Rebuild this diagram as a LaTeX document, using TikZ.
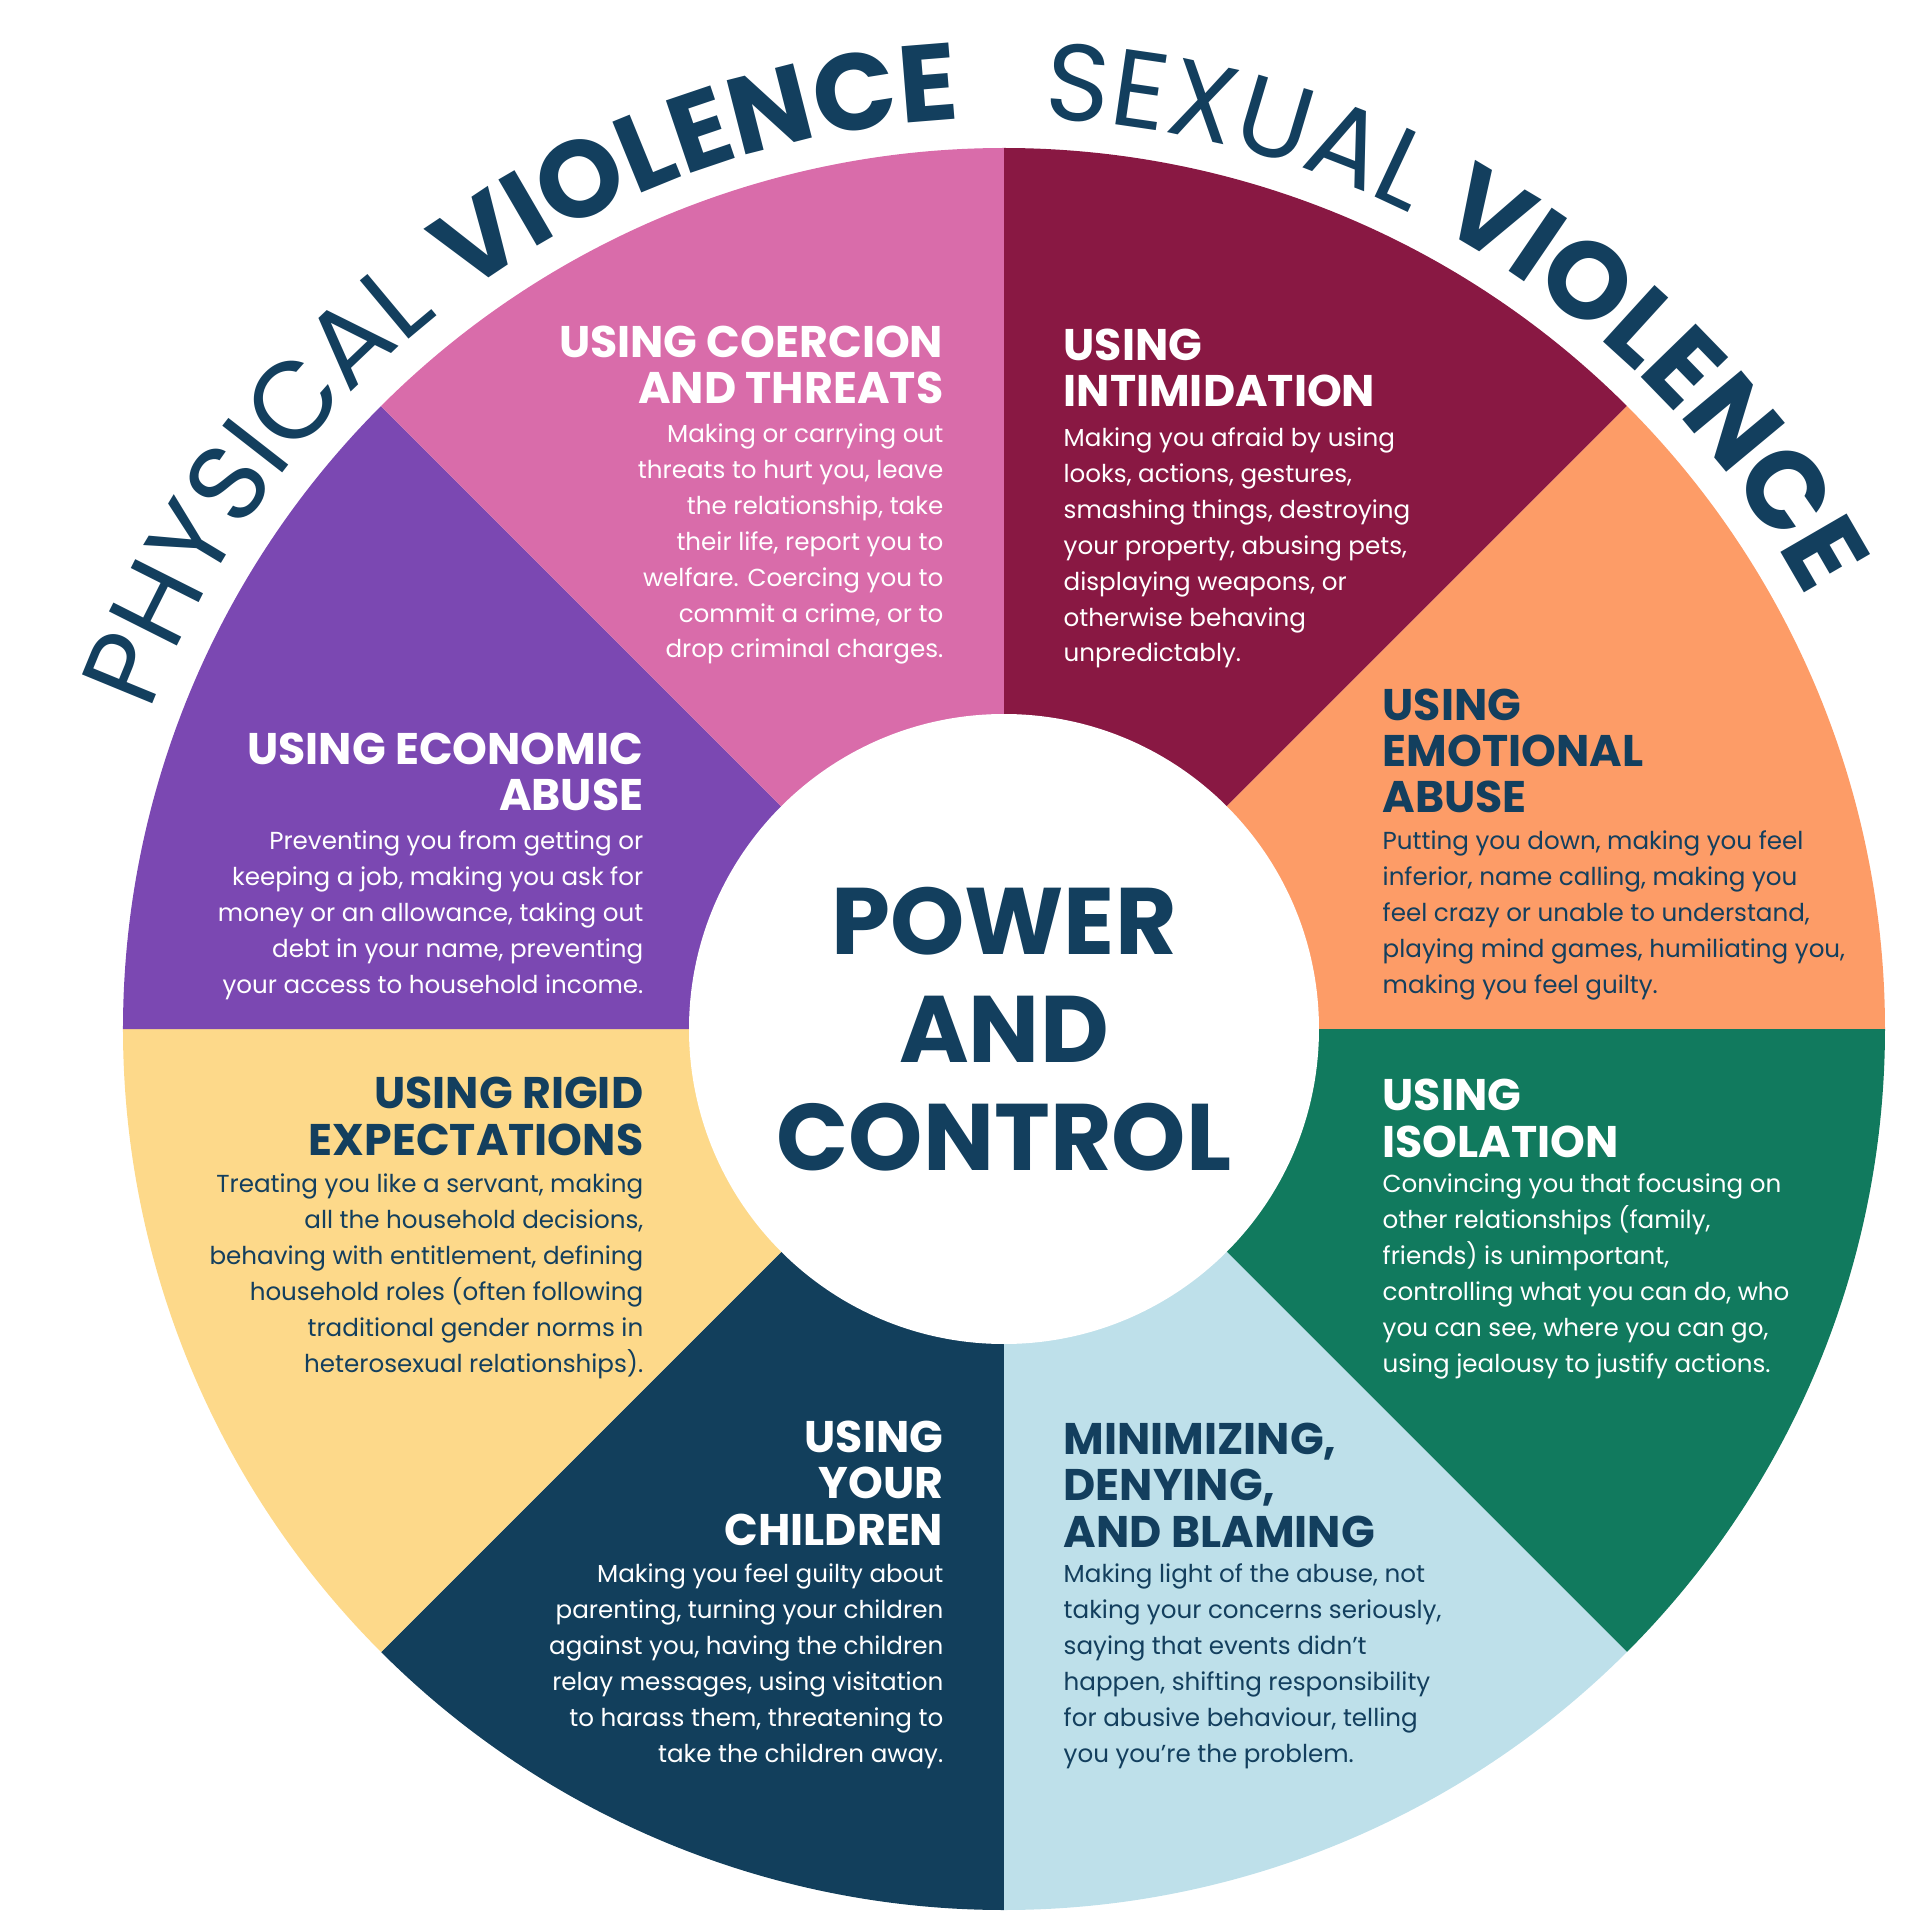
\documentclass[tikz,border=0pt]{standalone}
\usepackage{fontspec}
\setmainfont{Poppins}
\usepackage{xcolor}
\usepackage{tikz}
\usetikzlibrary{decorations.text}
\definecolor{wpink}{HTML}{D96CAA}
\definecolor{wmaroon}{HTML}{891843}
\definecolor{worange}{HTML}{FD9C67}
\definecolor{wgreen}{HTML}{117A5E}
\definecolor{wsky}{HTML}{BEE0EA}
\definecolor{wnavy}{HTML}{123F5C}
\definecolor{wyellow}{HTML}{FDD98A}
\definecolor{wpurple}{HTML}{7B48B2}
\definecolor{ink}{HTML}{133F5E}
\newcommand\hdfont{\fontsize{12.6pt}{13.1pt}\selectfont\bfseries}
\newcommand\txfont{\fontsize{7pt}{10.24pt}\selectfont}
\newcommand\hubfont{\fontsize{26.9pt}{30.7pt}\selectfont\bfseries}
\newcommand\rimfont{\fontsize{31pt}{31pt}\selectfont}

\begin{document}
\begin{tikzpicture}[
  x=0.1mm,y=0.1mm,
  seg/.style={fill=#1},
  hd/.style={inner sep=0pt,font=\hdfont,text=white},
  hdl/.style={hd,anchor=base west,align=left},
  hdr/.style={hd,anchor=base east,align=right},
  tx/.style={inner sep=0pt,font=\txfont,text=white},
  txl/.style={tx,anchor=base west,align=left},
  txr/.style={tx,anchor=base east,align=right},
  dark/.style={text=ink},
  hub/.style={circle,fill=white,minimum size=63mm,inner sep=0pt,
              align=center,font=\hubfont,text=ink},
  rimtxt/.style={decorate,decoration={text along path,text align=center,
                 text color=ink,text={#1}}}
]
\useasboundingbox (-1004,-891) rectangle (916,1029);

\fill[seg=wmaroon] (0,0) -- (90:881) arc[start angle=90,end angle=45,radius=881] -- cycle;
\fill[seg=worange] (0,0) -- (45:881) arc[start angle=45,end angle=0,radius=881] -- cycle;
\fill[seg=wgreen] (0,0) -- (0:881) arc[start angle=0,end angle=-45,radius=881] -- cycle;
\fill[seg=wsky] (0,0) -- (-45:881) arc[start angle=-45,end angle=-90,radius=881] -- cycle;
\fill[seg=wnavy] (0,0) -- (-90:881) arc[start angle=-90,end angle=-135,radius=881] -- cycle;
\fill[seg=wyellow] (0,0) -- (-135:881) arc[start angle=-135,end angle=-180,radius=881] -- cycle;
\fill[seg=wpurple] (0,0) -- (180:881) arc[start angle=180,end angle=135,radius=881] -- cycle;
\fill[seg=wpink] (0,0) -- (135:881) arc[start angle=135,end angle=90,radius=881] -- cycle;

\node[hub] (hub) at (0,0) {POWER\\AND\\CONTROL};

\node[hdr] (coer) at (-60,625) {USING COERCION\\AND THREATS};
\node[txr] (coertxt) at (-60,371)
  {Making or carrying out\\threats to hurt you, leave\\the relationship, take\\
   their life, report you to\\welfare. Coercing you to\\commit a crime, or to\\
   drop criminal charges.};

\node[hdl] (intim) at (59,622) {USING\\INTIMIDATION};
\node[txl] (intimtxt) at (59,367)
  {Making you afraid by using\\looks, actions, gestures,\\smashing things, destroying\\
   your property, abusing pets,\\displaying weapons, or\\otherwise behaving\\
   unpredictably.};

\node[hdl,dark] (emo) at (378,216) {USING\\EMOTIONAL\\ABUSE};
\node[txl,dark] (emotxt) at (378,36)
  {Putting you down, making you feel\\inferior, name calling, making you\\
   feel crazy or unable to understand,\\playing mind games, humiliating you,\\
   making you feel guilty.};

\node[hdr] (econ) at (-360,218) {USING ECONOMIC\\ABUSE};
\node[txr] (econtxt) at (-360,36)
  {Preventing you from getting or\\keeping a job, making you ask for\\
   money or an allowance, taking out\\debt in your name, preventing\\
   your access to household income.};

\node[hdr,dark] (rigid) at (-360,-126) {USING RIGID\\EXPECTATIONS};
\node[txr,dark] (rigidtxt) at (-360,-343)
  {Treating you like a servant, making\\all the household decisions,\\
   behaving with entitlement, defining\\household roles (often following\\
   traditional gender norms in\\heterosexual relationships).};

\node[hdl] (isol) at (378,-128) {USING\\ISOLATION};
\node[txl] (isoltxt) at (378,-343)
  {Convincing you that focusing on\\other relationships (family,\\
   friends) is unimportant,\\controlling what you can do, who\\
   you can see, where you can go,\\using jealousy to justify actions.};

\node[hdr] (child) at (-60,-516) {USING\\YOUR\\CHILDREN};
\node[txr] (childtxt) at (-60,-733)
  {Making you feel guilty about\\parenting, turning your children\\
   against you, having the children\\relay messages, using visitation\\
   to harass them, threatening to\\take the children away.};

\node[hdl,dark] (mini) at (59,-518) {MINIMIZING,\\DENYING,\\AND BLAMING};
\node[txl,dark] (minitxt) at (59,-733)
  {Making light of the abuse, not\\taking your concerns seriously,\\
   saying that events didn’t\\happen, shifting responsibility\\
   for abusive behaviour, telling\\you you’re the problem.};

\path[rimtxt={|\rimfont|PHYSICAL}]
  (166:911) arc[start angle=166,end angle=122,radius=911];
\path[rimtxt={|\rimfont\bfseries|VIOLENCE}]
  (131.5:911) arc[start angle=131.5,end angle=87.5,radius=911];
\path[rimtxt={|\rimfont|SEXUAL}]
  (97.5:911) arc[start angle=97.5,end angle=53.5,radius=911];
\path[rimtxt={|\rimfont\bfseries|VIOLENCE}]
  (67:911) arc[start angle=67,end angle=23,radius=911];
\end{tikzpicture}
\end{document}
